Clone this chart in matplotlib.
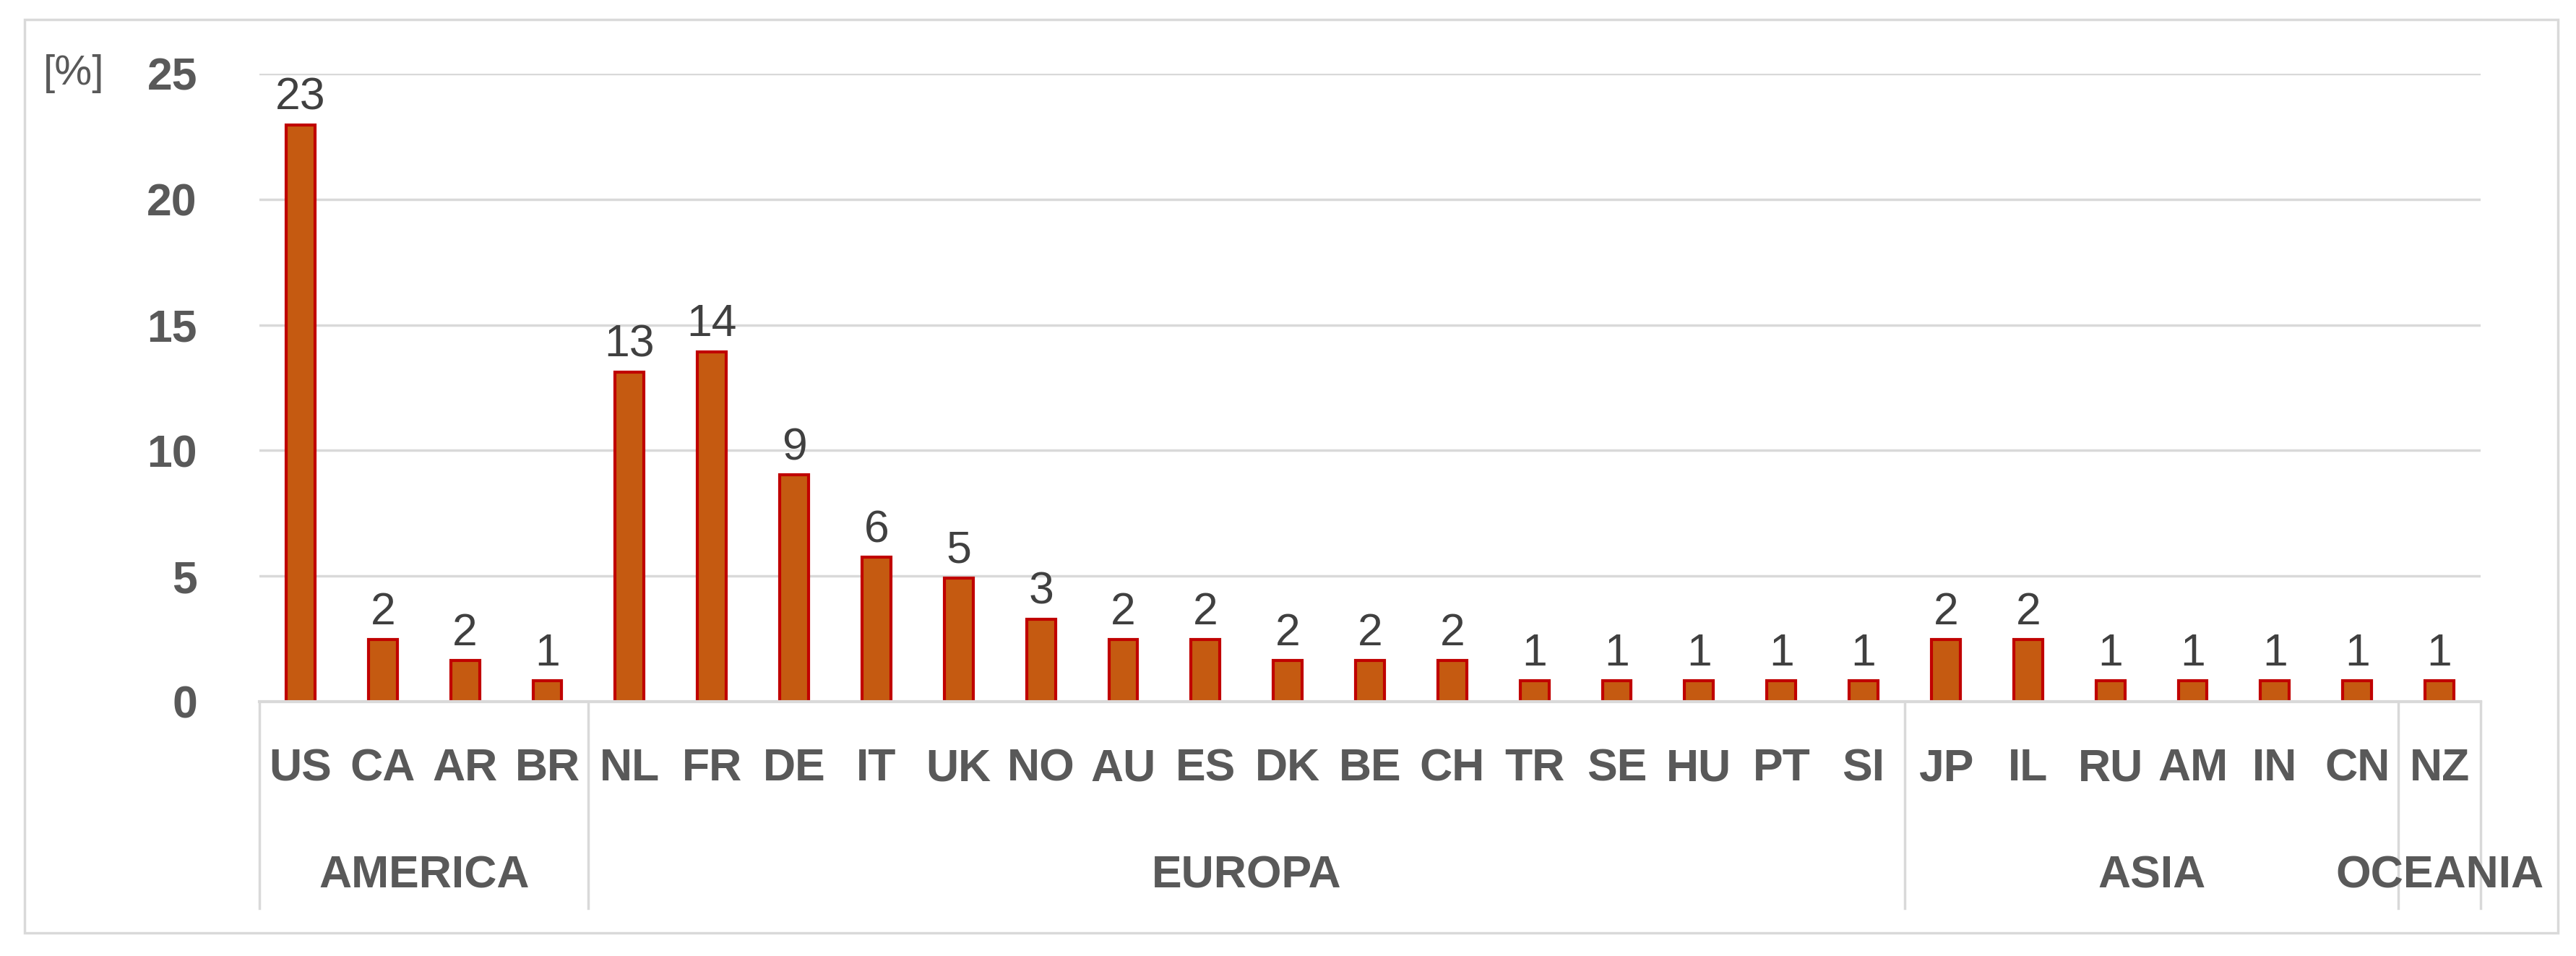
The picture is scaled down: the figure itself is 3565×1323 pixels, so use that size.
import matplotlib
matplotlib.use('Agg')
import matplotlib.pyplot as plt
from matplotlib.transforms import blended_transform_factory
from matplotlib.patches import Rectangle
from matplotlib.lines import Line2D

plt.rcParams['font.family'] = ['Liberation Sans Narrow', 'Liberation Sans', 'DejaVu Sans']

countries = ['US', 'CA', 'AR', 'BR',
             'NL', 'FR', 'DE', 'IT', 'UK', 'NO', 'AU', 'ES', 'DK', 'BE', 'CH', 'TR', 'SE', 'HU', 'PT', 'SI',
             'JP', 'IL', 'RU', 'AM', 'IN', 'CN',
             'NZ']
shares = [22.95, 2.46, 1.64, 0.82,
          13.11, 13.93, 9.02, 5.74, 4.92, 3.28, 2.46, 2.46, 1.64, 1.64, 1.64, 0.82, 0.82, 0.82, 0.82, 0.82,
          2.46, 2.46, 0.82, 0.82, 0.82, 0.82,
          0.82]
regions = ['AMERICA', 'EUROPA', 'ASIA', 'OCEANIA']
region_sizes = [4, 16, 6, 1]
yticks = [0, 5, 10, 15, 20, 25]

W, H = 3565, 1323
fig = plt.figure(figsize=(W / 100, H / 100), dpi=100)
grid_c = '#D9D9D9'
txt_c = '#595959'

# outer chart border
fig.patches.append(Rectangle((34 / W, 1 - 1291 / H), (3540 - 34) / W, (1291 - 27) / H,
                             transform=fig.transFigure, fill=False, edgecolor=grid_c, lw=2.5))

ax = fig.add_axes([359 / W, 1 - 971 / H, (3433 - 359) / W, (971 - 102) / H])
x = list(range(len(countries)))
ax.bar(x, shares, width=0.35, color='#C55A11', edgecolor='#C00000', linewidth=3, zorder=3)
for xi, v in zip(x, shares):
    ax.annotate(f'{v:.0f}', (xi, v), xytext=(0, 6), textcoords='offset points',
                ha='center', va='bottom', fontsize=45, color='#404040', clip_on=False)

ax.set_xlim(-0.5, len(countries) - 0.5)
ax.set_ylim(0, 25)
ax.set_yticks(yticks)
ax.set_yticklabels([str(t) for t in yticks], fontsize=45, fontweight='bold', color=txt_c)
ax.tick_params(axis='y', length=0, pad=62)
ax.set_xticks([])
ax.grid(axis='y', color=grid_c, lw=2.5, zorder=0)
for s in ['top', 'right', 'left']:
    ax.spines[s].set_visible(False)
ax.spines['bottom'].set_color(grid_c)
ax.spines['bottom'].set_linewidth(3)
ax.spines['bottom'].set_zorder(4)

fig.text(102 / W, 1 - 102 / H, '[%]', fontsize=42, color=txt_c, ha='center', va='center')

# two-level category axis
tr = blended_transform_factory(ax.transData, fig.transFigure)
for xi, c in zip(x, countries):
    ax.text(xi, 1 - 1064 / H, c, transform=tr, ha='center', va='center',
            fontsize=45, fontweight='bold', color=txt_c, clip_on=False)

start = 0
edges = [-0.5]
for name, n in zip(regions, region_sizes):
    mid = start + (n - 1) / 2
    ax.text(mid, 1 - 1212 / H, name, transform=tr, ha='center', va='center',
            fontsize=45, fontweight='bold', color=txt_c, clip_on=False)
    start += n
    edges.append(start - 0.5)
for e in edges:
    ax.add_line(Line2D([e, e], [1 - 971 / H, 1 - 1257 / H], transform=tr,
                       color=grid_c, lw=2.5, clip_on=False))

fig.savefig('out.png', dpi=100, facecolor='white')
